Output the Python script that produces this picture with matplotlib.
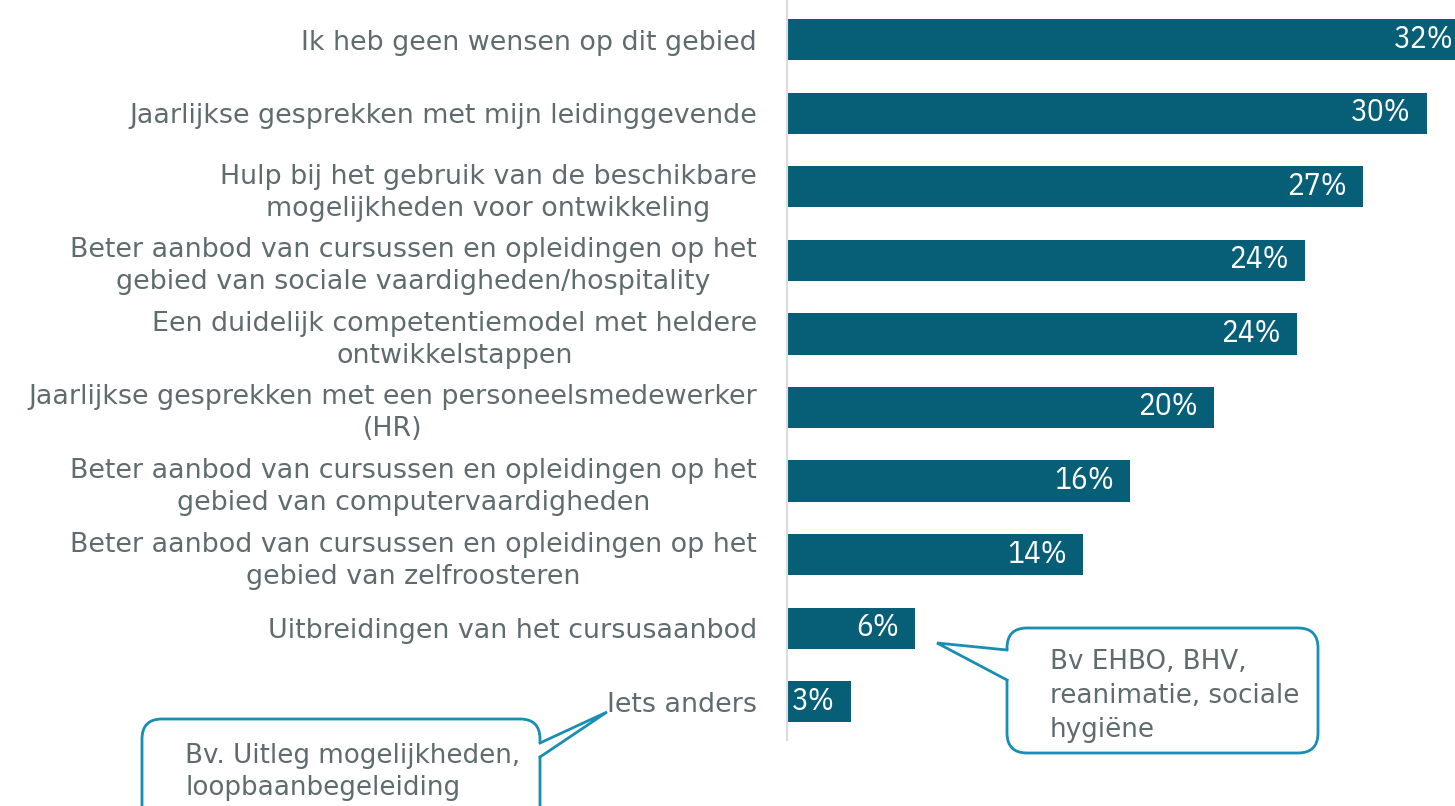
import matplotlib
matplotlib.use("Agg")
import matplotlib.pyplot as plt
from matplotlib.patches import FancyBboxPatch, Polygon

# data
categories = [
    "Ik heb geen wensen op dit gebied",
    "Jaarlijkse gesprekken met mijn leidinggevende",
    "Hulp bij het gebruik van de beschikbare\nmogelijkheden voor ontwikkeling",
    "Beter aanbod van cursussen en opleidingen op het\ngebied van sociale vaardigheden/hospitality",
    "Een duidelijk competentiemodel met heldere\nontwikkelstappen",
    "Jaarlijkse gesprekken met een personeelsmedewerker\n(HR)",
    "Beter aanbod van cursussen en opleidingen op het\ngebied van computervaardigheden",
    "Beter aanbod van cursussen en opleidingen op het\ngebied van zelfroosteren",
    "Uitbreidingen van het cursusaanbod",
    "Iets anders",
]
values = [32.0, 30.0, 27.0, 24.3, 23.9, 20.0, 16.1, 13.9, 6.0, 3.0]
pct_labels = ["32%", "30%", "27%", "24%", "24%", "20%", "16%", "14%", "6%", "3%"]

callout_cursus = "Bv EHBO, BHV,\nreanimatie, sociale\nhygiëne"
callout_anders = "Bv. Uitleg mogelijkheden,\nloopbaanbegeleiding"

bar_color = "#065f77"
text_color = "#5f6b6d"
edge_color = "#1a8db3"

W, H = 1455, 806
fig = plt.figure(figsize=(W / 100, H / 100), dpi=100)

# main bar axes
ax = fig.add_axes([787 / W, 66 / H, 668 / W, 740 / H])
y = list(range(len(values)))
ax.barh(y, values, height=0.56, color=bar_color)
ax.set_xlim(0, 668 / 21.33)
ax.set_ylim(9.518, -0.537)

ax.set_yticks(y)
ax.set_yticklabels(categories, fontsize=19.4, color=text_color,
                   multialignment="center", linespacing=1.3)
ax.tick_params(axis="y", length=0, pad=21.6)
ax.set_xticks([])
for s in ["top", "right", "bottom"]:
    ax.spines[s].set_visible(False)
ax.spines["left"].set_color("#dcdcdc")
ax.spines["left"].set_linewidth(1.5)

for i, (v, lab) in enumerate(zip(values, pct_labels)):
    ax.annotate(lab, xy=(v, i), xytext=(-16, 1), textcoords="offset pixels",
                ha="right", va="center", color="white", fontsize=22.5,
                family=["IBM Plex Sans Condensed", "Open Sans"],
                annotation_clip=False)

# overlay in pixel units for the callouts
ov = fig.add_axes([0, 0, 1, 1])
ov.set_xlim(0, W)
ov.set_ylim(H, 0)
ov.axis("off")
ov.patch.set_visible(False)


def callout(x0, y0, x1, y1, base_a, base_b, tip, inset):
    box = FancyBboxPatch((x0, y0), x1 - x0, y1 - y0,
                         boxstyle="round,pad=0,rounding_size=20",
                         fc="white", ec=edge_color, lw=2, zorder=2)
    ov.add_patch(box)
    tri = Polygon([(base_a[0] + inset, base_a[1]), tip,
                   (base_b[0] + inset, base_b[1])],
                  closed=True, fc="white", ec="none", zorder=3)
    ov.add_patch(tri)
    ov.plot([base_a[0], tip[0], base_b[0]], [base_a[1], tip[1], base_b[1]],
            color=edge_color, lw=2, zorder=4, solid_joinstyle="miter")


callout(1007, 628, 1318, 753, (1007, 650), (1007, 680), (937, 643), 2.5)
ov.text(1050, 696, callout_cursus, ha="left", va="center", fontsize=18.8,
        color=text_color, linespacing=1.42, zorder=5)

callout(142, 719, 540, 840, (540, 743), (540, 757), (607, 712), -2.5)
ov.text(185, 772, callout_anders, ha="left", va="center", fontsize=18.8,
        color=text_color, linespacing=1.32, zorder=5)

fig.savefig("out.png", dpi=100)
